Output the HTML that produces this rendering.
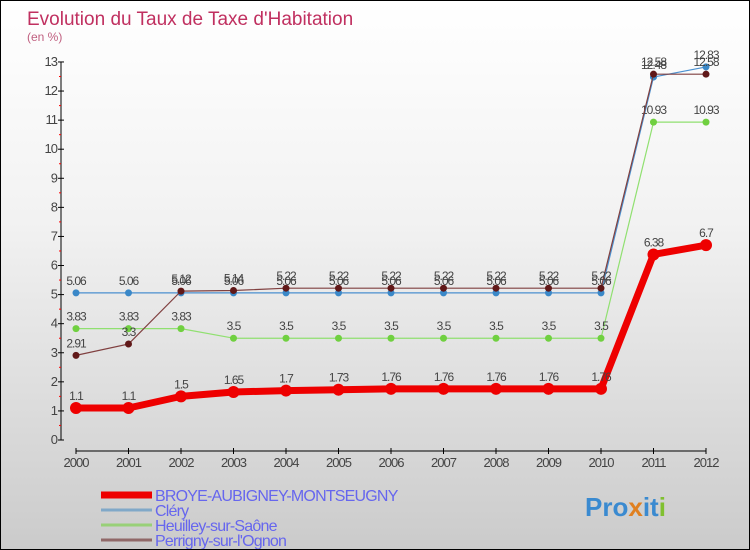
<!DOCTYPE html>
<html><head><meta charset="utf-8"><style>
body{margin:0}
#c{width:750px;height:550px;position:relative;box-sizing:border-box;border:1px solid #000;background:linear-gradient(#fff,#f2f2f2 40%,#cbcbcb);font-family:"Liberation Sans",sans-serif;overflow:hidden}
svg{position:absolute;left:0;top:0}
</style></head><body>
<div id="c">
<svg id="s" width="750" height="550">
<text x="26" y="24" font-size="19" fill="#c03060">Evolution du Taux de Taxe d'Habitation</text>
<text x="26" y="40" font-size="12" fill="#c06080">(en %)</text>
</svg>
</div>
<script>
const years=[2000,2001,2002,2003,2004,2005,2006,2007,2008,2009,2010,2011,2012];
const yTicks=[0,1,2,3,4,5,6,7,8,9,10,11,12,13];
const broye=[1.1,1.1,1.5,1.65,1.7,1.73,1.76,1.76,1.76,1.76,1.76,6.38,6.7];
const clery=[5.06,5.06,5.06,5.06,5.06,5.06,5.06,5.06,5.06,5.06,5.06,12.48,12.83];
const heuilley=[3.83,3.83,3.83,3.5,3.5,3.5,3.5,3.5,3.5,3.5,3.5,10.93,10.93];
const perrigny=[2.91,3.3,5.12,5.14,5.22,5.22,5.22,5.22,5.22,5.22,5.22,12.58,12.58];
const names=["BROYE-AUBIGNEY-MONTSEUGNY","Cléry","Heuilley-sur-Saône","Perrigny-sur-l'Ognon"];
const NS="http://www.w3.org/2000/svg",s=document.getElementById('s');
const X=i=>75+i*52.5, Y=v=>439-v*29.08;
function el(t,a,p){const e=document.createElementNS(NS,t);for(const k in a)e.setAttribute(k,a[k]);(p||s).appendChild(e);return e;}
let ax=el('line',{x1:60,y1:Y(13),x2:60,y2:Y(0),stroke:'#000'});


yTicks.forEach(v=>{
 el('line',{x1:57,x2:63,y1:Y(v),y2:Y(v),stroke:'#000'});
 if(v<13){el('line',{x1:58,x2:60,y1:Y(v+0.5),y2:Y(v+0.5),stroke:'#f00'});}
 const t=el('text',{x:56,y:Y(v)+4,'font-size':13,fill:'#444','text-anchor':'end','letter-spacing':'-1'});t.textContent=v;
 
 
});
let xa=el('line',{x1:X(0),y1:450,x2:X(12),y2:450,stroke:'#000'});


years.forEach((y,i)=>{
 el('line',{x1:X(i),x2:X(i),y1:447,y2:453,stroke:'#000'});
 const t=el('text',{x:X(i),y:466,'font-size':13,fill:'#444','text-anchor':'middle','letter-spacing':'-1'});t.textContent=y;
 
 
});
const series=[[clery,'#4a90d0','#3a88c8',1.2],[heuilley,'#90e070','#70d040',1.2],[perrigny,'#804040','#601818',1.2],[broye,'#ee0000','#ee0000',7]];
series.forEach(([d,c,m,w],k)=>{
 const g=el('g',{});
 
 
 el('polyline',{points:d.map((v,i)=>X(i)+','+Y(v)).join(' '),fill:'none',stroke:c,'stroke-width':w,'stroke-linejoin':'round'},g);
 d.forEach((v,i)=>{
  const p=el('circle',{cx:X(i),cy:Y(v),r:k==3?6:3.5,fill:m},g);
  
  
  const t=el('text',{x:X(i),y:Y(v)-8,'font-size':12,fill:'#444','text-anchor':'middle','letter-spacing':'-1'},g);t.textContent=v;
  
  
 });
});
const lc=['#ee0000','#80a8c8','#98d078','#906868'],lw=[7,3,3,3];
names.forEach((n,i)=>{
 const y=492+i*15;
 const g=el('g',{});
 
 
 el('line',{x1:100,x2:151,y1:y+2,y2:y+2,stroke:lc[i],'stroke-width':lw[i]},g);
 const t=el('text',{x:154,y:y+8,'font-size':16,fill:'#6666ee','letter-spacing':'-0.8'},g);t.textContent=n;
});
const lg=el('text',{x:584,y:515,'font-size':26,'font-weight':'bold',fill:'#3a8ad0'});


[['Pro','#3a8ad0'],['x','#e08020'],['it','#3a8ad0'],['i','#80c030']].forEach(([t,c])=>{const sp=el('tspan',{fill:c},lg);sp.textContent=t;});
</script>
</body></html>
